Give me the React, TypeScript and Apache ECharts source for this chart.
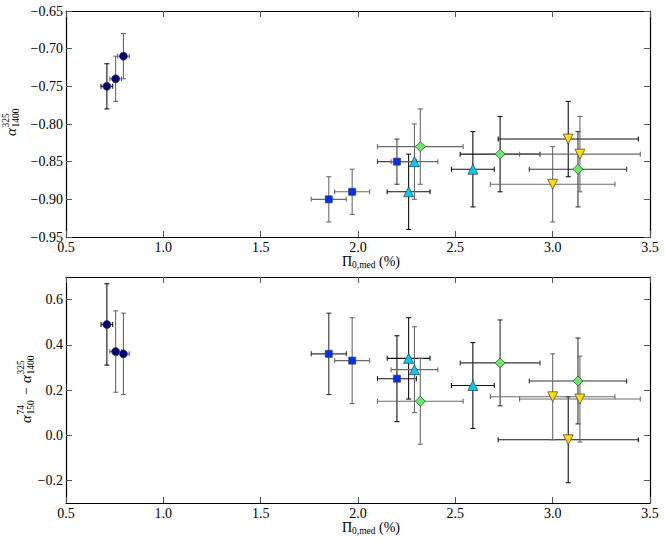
import React, { useEffect, useRef } from 'react';
import * as echarts from 'echarts';

// ---------- data ----------
const xTicks = [0.5, 1.0, 1.5, 2.0, 2.5, 3.0, 3.5];
const topYTicks = [-0.95, -0.9, -0.85, -0.8, -0.75, -0.7, -0.65];
const botYTicks = [-0.2, 0.0, 0.2, 0.4, 0.6];

// circles (navy)
const circleX = [0.71, 0.755, 0.795];
const circleXErr = [0.03, 0.03, 0.03];
const circleTopY = [-0.75, -0.74, -0.71];
const circleTopYErr = [0.03, 0.03, 0.03];
const circleBotY = [0.49, 0.37, 0.36];
const circleBotYErr = [0.18, 0.18, 0.18];

// squares (blue)
const squareX = [1.85, 1.97, 2.2];
const squareXErr = [0.09, 0.09, 0.1];
const squareTopY = [-0.9, -0.89, -0.85];
const squareTopYErr = [0.03, 0.03, 0.03];
const squareBotY = [0.36, 0.33, 0.25];
const squareBotYErr = [0.18, 0.19, 0.19];

// triangles up (cyan)
const triX = [2.26, 2.29, 2.59];
const triXErr = [0.11, 0.12, 0.11];
const triTopY = [-0.89, -0.85, -0.86];
const triTopYErr = [0.05, 0.05, 0.05];
const triBotY = [0.34, 0.29, 0.22];
const triBotYErr = [0.18, 0.19, 0.19];

// diamonds (green)
const diaX = [2.32, 2.73, 3.13];
const diaXErr = [0.22, 0.205, 0.25];
const diaTopY = [-0.83, -0.84, -0.86];
const diaTopYErr = [0.05, 0.05, 0.05];
const diaBotY = [0.15, 0.32, 0.24];
const diaBotYErr = [0.19, 0.19, 0.19];

// triangles down (yellow)
const downX = [3.08, 3.14, 3.0];
const downXErr = [0.36, 0.31, 0.32];
const downTopY = [-0.82, -0.84, -0.88];
const downTopYErr = [0.05, 0.05, 0.05];
const downBotY = [-0.02, 0.16, 0.17];
const downBotYErr = [0.19, 0.19, 0.19];

// ---------- styles ----------
const FONT = 'Liberation Serif';
const K = '#111111';
const G = '#6a6a6a';

const groups = [
  { x: circleX, xe: circleXErr, yt: circleTopY, yte: circleTopYErr, yb: circleBotY, ybe: circleBotYErr,
    symbol: 'circle', size: 8, rotate: 0, color: '#000080', shTop: [K, G, G], shBot: [K, G, G] },
  { x: squareX, xe: squareXErr, yt: squareTopY, yte: squareTopYErr, yb: squareBotY, ybe: squareBotYErr,
    symbol: 'rect', size: 7, rotate: 0, color: '#0030ff', shTop: [G, G, '#444'], shBot: ['#333', G, K] },
  { x: triX, xe: triXErr, yt: triTopY, yte: triTopYErr, yb: triBotY, ybe: triBotYErr,
    symbol: 'triangle', size: 10, rotate: 0, color: '#00c8f8', shTop: [K, G, K], shBot: [K, G, K] },
  { x: diaX, xe: diaXErr, yt: diaTopY, yte: diaTopYErr, yb: diaBotY, ybe: diaBotYErr,
    symbol: 'diamond', size: 10, rotate: 0, color: '#6ae86a', shTop: [G, K, '#333'], shBot: [G, '#333', '#333'] },
  { x: downX, xe: downXErr, yt: downTopY, yte: downTopYErr, yb: downBotY, ybe: downBotYErr,
    symbol: 'triangle', size: 10, rotate: 180, color: '#ffdd00', shTop: [K, G, G], shBot: [K, G, G] },
];

function errSeries(axisIdx: number, xs: number[], ys: number[], xe: number[], ye: number[], shades: string[]) {
  return {
    type: 'custom',
    xAxisIndex: axisIdx,
    yAxisIndex: axisIdx,
    z: 2,
    silent: true,
    clip: false,
    encode: { x: 0, y: 1 },
    data: xs.map((x, i) => [x, ys[i], xe[i], ye[i]]),
    renderItem: (params: any, api: any) => {
      const x = api.value(0);
      const y = api.value(1);
      const ex = api.value(2);
      const ey = api.value(3);
      const L = api.coord([x - ex, y]);
      const R = api.coord([x + ex, y]);
      const T = api.coord([x, y + ey]);
      const B = api.coord([x, y - ey]);
      const st = { stroke: shades[params.dataIndex], lineWidth: 1.1 };
      const c = 2.5;
      const ln = (x1: number, y1: number, x2: number, y2: number) => ({
        type: 'line', shape: { x1, y1, x2, y2 }, style: st,
      });
      return {
        type: 'group',
        children: [
          ln(L[0], L[1], R[0], R[1]),
          ln(T[0], T[1], B[0], B[1]),
          ln(L[0], L[1] - c, L[0], L[1] + c),
          ln(R[0], R[1] - c, R[0], R[1] + c),
          ln(T[0] - c, T[1], T[0] + c, T[1]),
          ln(B[0] - c, B[1], B[0] + c, B[1]),
        ],
      };
    },
  };
}

function markSeries(axisIdx: number, xs: number[], ys: number[], g: any) {
  return {
    type: 'scatter',
    xAxisIndex: axisIdx,
    yAxisIndex: axisIdx,
    z: 3,
    silent: true,
    symbol: g.symbol,
    symbolSize: g.size,
    symbolRotate: g.rotate,
    itemStyle: { color: g.color, borderColor: '#3a3a3a', borderWidth: 0.7, opacity: 1 },
    data: xs.map((x, i) => [x, ys[i]]),
  };
}

const fmtMinus = (v: number, d: number) => (v < -1e-9 ? '\u2212' : '') + Math.abs(v).toFixed(d);

function xAxes(gridIndex: number) {
  const base = {
    type: 'value',
    gridIndex,
    min: 0.5,
    max: 3.5,
    splitLine: { show: false },
    axisLine: { show: true, onZero: false, lineStyle: { color: '#000', width: 1.2 } },
    axisTick: { show: true, inside: true, length: 6, customValues: xTicks, lineStyle: { color: '#555', width: 1 } },
  };
  return [
    {
      ...base,
      position: 'bottom',
      axisLabel: {
        show: true, customValues: xTicks, margin: 3, color: '#000', fontFamily: FONT, fontSize: 14,
        formatter: (v: number) => v.toFixed(1),
      },
    },
    { ...base, position: 'top', axisLabel: { show: false } },
  ];
}

function yAxes(gridIndex: number, min: number, max: number, ticks: number[], dec: number) {
  const base = {
    type: 'value',
    gridIndex,
    min,
    max,
    splitLine: { show: false },
    axisLine: { show: true, onZero: false, lineStyle: { color: '#000', width: 1.2 } },
    axisTick: { show: true, inside: true, length: 6, customValues: ticks, lineStyle: { color: '#555', width: 1 } },
  };
  return [
    {
      ...base,
      position: 'left',
      axisLabel: {
        show: true, customValues: ticks, margin: 3, color: '#000', fontFamily: FONT, fontSize: 14,
        formatter: (v: number) => fmtMinus(v, dec),
      },
    },
    { ...base, position: 'right', axisLabel: { show: false } },
  ];
}

type Piece = { t: string; dx: number; dy: number; size: number; italic?: boolean; align?: string };

function mathLabel(x: number, y: number, rotation: number, pieces: Piece[]) {
  return {
    type: 'group',
    x,
    y,
    rotation,
    silent: true,
    children: pieces.map((p) => ({
      type: 'text',
      x: p.dx,
      y: p.dy,
      style: {
        text: p.t,
        fill: '#000',
        fontFamily: FONT,
        fontSize: p.size,
        fontStyle: p.italic ? 'italic' : 'normal',
        textAlign: p.align || 'left',
        textVerticalAlign: 'middle',
        verticalAlign: 'middle',
      },
    })),
  };
}

const xLabelPieces: Piece[] = [
  { t: '\u03A0', dx: -26, dy: 0, size: 14 },
  { t: '0,med', dx: -16, dy: 4, size: 9.5 },
  { t: '(%)', dx: 11, dy: 0, size: 14 },
];

const topYLabelPieces: Piece[] = [
  { t: '\u03B1', dx: -13, dy: 0, size: 15, italic: true },
  { t: '325', dx: -4.5, dy: -5, size: 9.5 },
  { t: '1400', dx: -4.5, dy: 4.5, size: 9.5 },
];

const botYLabelPieces: Piece[] = [
  { t: '\u03B1', dx: -33, dy: 0, size: 15, italic: true },
  { t: '74', dx: -24.5, dy: -5, size: 9.5 },
  { t: '150', dx: -24.5, dy: 4.5, size: 9.5 },
  { t: '\u2212', dx: -1, dy: 0, size: 14, align: 'center' },
  { t: '\u03B1', dx: 7, dy: 0, size: 15, italic: true },
  { t: '325', dx: 15.5, dy: -5, size: 9.5 },
  { t: '1400', dx: 15.5, dy: 4.5, size: 9.5 },
];

export default function App() {
  const ref = useRef<HTMLDivElement>(null);
  useEffect(() => {
    if (!ref.current) return;
    const chart = echarts.init(ref.current, undefined, { renderer: 'svg' });
    const series: any[] = [];
    groups.forEach((g) => {
      series.push(errSeries(0, g.x, g.yt, g.xe, g.yte, g.shTop));
      series.push(errSeries(2, g.x, g.yb, g.xe, g.ybe, g.shBot));
    });
    groups.forEach((g) => {
      series.push(markSeries(0, g.x, g.yt, g));
      series.push(markSeries(2, g.x, g.yb, g));
    });
    chart.setOption({
      animation: false,
      backgroundColor: '#fff',
      textStyle: { fontFamily: FONT },
      grid: [
        { left: 66, top: 11, width: 584, height: 226 },
        { left: 66, top: 277, width: 584, height: 226 },
      ],
      xAxis: [...xAxes(0), ...xAxes(1)],
      yAxis: [...yAxes(0, -0.95, -0.65, topYTicks, 2), ...yAxes(1, -0.3, 0.7, botYTicks, 1)],
      series,
      graphic: [
        mathLabel(368, 261, 0, xLabelPieces),
        mathLabel(368, 527, 0, xLabelPieces),
        mathLabel(11, 123, Math.PI / 2, topYLabelPieces),
        mathLabel(26, 390, Math.PI / 2, botYLabelPieces),
      ],
    });
    return () => chart.dispose();
  }, []);
  return (
    <div
      ref={ref}
      style={{ position: 'fixed', left: 0, top: 0, width: 665, height: 544, background: '#fff' }}
    />
  );
}
